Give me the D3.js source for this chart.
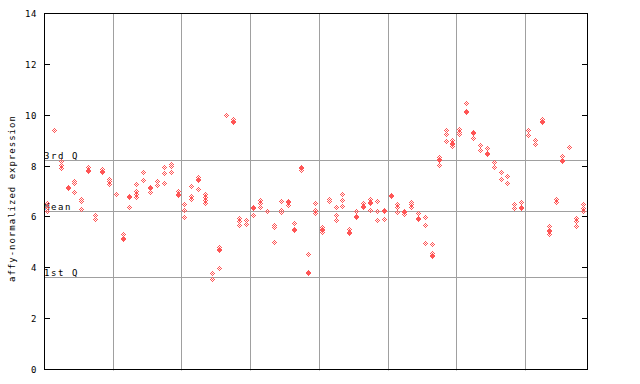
<!DOCTYPE html>
<html>
<head>
<meta charset="utf-8">
<script src="https://cdn.jsdelivr.net/npm/d3@7"></script>
<style>
  body { margin: 0; background: #fff; }
  svg { display: block; }
  text { font-family: "DejaVu Sans Mono", monospace; fill: #000; }
</style>
</head>
<body>
<svg width="640" height="384"></svg>
<script>
var yTicks = [0, 2, 4, 6, 8, 10, 12, 14];
var refLabels = ["3rd Q", "Mean", "1st Q"];
var refValues = [8.24, 6.22, 3.63];
var groupBreaks = [10, 20, 30, 40, 50, 60, 70];

// replicate values per sample, left to right
var sampleValues = [
  [6.52, 6.36, 6.20], [9.38], [8.17, 8.04, 7.91], [7.16, 7.12], [7.38, 7.30, 6.97],
  [6.70, 6.60, 6.30], [7.94, 7.83, 7.80], [6.05, 5.88], [7.88, 7.78, 7.74], [7.49, 7.38, 7.26],
  [6.90], [5.29, 5.16, 5.12], [6.81, 6.77, 6.38], [7.26, 6.99, 6.89, 6.78], [7.76, 7.44],
  [7.15, 7.11, 6.95], [7.41, 7.23], [7.94, 7.70, 7.32], [8.07, 7.99, 7.76], [6.99, 6.89, 6.85],
  [6.50, 6.25, 5.99], [7.21, 6.79, 6.69], [7.57, 7.46, 7.42, 7.09], [6.89, 6.76, 6.63, 6.54], [3.76, 3.55],
  [4.79, 4.71, 4.67, 3.98], [9.97], [9.85, 9.74, 9.70], [5.92, 5.81, 5.68], [5.84, 5.72],
  [6.36, 6.32, 6.04], [6.63, 6.54, 6.36], [6.22], [5.68, 5.59, 5.01], [6.61, 6.26, 6.18],
  [6.60, 6.56, 6.44], [5.76, 5.49, 5.45], [7.94, 7.90, 7.82], [4.53, 3.81, 3.77], [6.54, 6.27, 6.14],
  [5.58, 5.49, 5.45, 5.40], [6.70, 6.60], [6.38, 6.04, 5.85], [6.89, 6.65, 6.42], [5.51, 5.38, 5.34],
  [6.22, 6.01, 5.97], [6.51, 6.41, 6.37], [6.67, 6.57, 6.53, 6.26], [6.61, 6.22, 5.87], [6.25, 6.21, 5.91],
  [6.85, 6.81], [6.50, 6.38, 6.18], [6.22, 6.18, 6.08], [6.57, 6.47, 6.36], [6.14, 5.92, 5.88],
  [5.96, 5.67, 4.97], [4.92, 4.58, 4.47, 4.43], [8.34, 8.27, 8.23, 8.03], [9.39, 9.23, 8.97], [9.02, 8.89, 8.85, 8.76],
  [9.42, 9.33, 9.25], [10.47, 10.14, 10.10], [9.31, 9.27, 9.09], [8.82, 8.60], [8.70, 8.51, 8.47],
  [8.13, 7.95], [7.76, 7.47], [7.58, 7.32], [6.47, 6.34], [6.57, 6.36, 6.32],
  [9.38, 9.22], [9.01, 8.86], [9.85, 9.77, 9.73], [5.64, 5.45, 5.41, 5.29], [6.70, 6.55],
  [8.39, 8.22, 8.18], [8.72], [5.95, 5.81, 5.64], [6.47, 6.34, 6.21]
];
var samples = d3.range(sampleValues.length);

var svg = d3.select("svg"),
    plotLeft = 44, plotRight = 587, plotTop = 13.5, plotBottom = 369.5;

var x = d3.scaleBand().domain(samples).range([plotLeft, plotRight]);
var y = d3.scaleLinear().domain([0, 14]).range([plotBottom, plotTop]);

var grid = "#a0a0a0", red = "#ff5555";

// group separators
svg.append("g").selectAll("line")
    .data(groupBreaks)
  .enter().append("line")
    .attr("x1", function(d) { return Math.round(x(d)) + 0.5; })
    .attr("x2", function(d) { return Math.round(x(d)) + 0.5; })
    .attr("y1", plotTop).attr("y2", plotBottom + 1)
    .attr("stroke", grid);

// quartile / mean lines
var ref = svg.append("g").selectAll("g")
    .data(refValues)
  .enter().append("g");
ref.append("line")
    .attr("x1", plotLeft).attr("x2", plotRight)
    .attr("y1", function(d) { return Math.round(y(d)) + 0.5; })
    .attr("y2", function(d) { return Math.round(y(d)) + 0.5; })
    .attr("stroke", grid);
ref.append("text")
    .attr("x", plotLeft)
    .attr("y", function(d) { return Math.round(y(d)) - 1; })
    .attr("font-size", "9px")
    .attr("letter-spacing", "1.6px")
    .text(function(d, i) { return refLabels[i]; });

// checkered diamond marker, 5x5 pixels
var cells = [[0,-2],[-1,-1],[1,-1],[-2,0],[0,0],[2,0],[-1,1],[1,1],[0,2]];
var marker = cells.map(function(c) { return "M" + c[0] + "," + c[1] + "h1v1h-1z"; }).join("");

var points = [];
sampleValues.forEach(function(vals, i) {
  vals.forEach(function(v) { points.push({sample: i, value: v}); });
});

svg.append("g").selectAll("path")
    .data(points)
  .enter().append("path")
    .attr("d", marker)
    .attr("fill", red)
    .attr("shape-rendering", "crispEdges")
    .attr("transform", function(d) {
      var cx = Math.floor(x(d.sample) + x.bandwidth() / 2);
      var cy = Math.floor(y(d.value));
      return "translate(" + cx + "," + cy + ")";
    });

// frame
svg.append("rect")
    .attr("x", plotLeft + 0.5).attr("y", plotTop)
    .attr("width", plotRight - plotLeft).attr("height", plotBottom - plotTop)
    .attr("fill", "none").attr("stroke", "#000");

// ticks, inward on both sides
var ticks = svg.append("g").selectAll("g")
    .data(yTicks)
  .enter().append("g")
    .attr("transform", function(d) { return "translate(0," + (Math.round(y(d) - 0.5) + 0.5) + ")"; });
ticks.append("line").attr("x1", plotLeft).attr("x2", plotLeft + 6).attr("stroke", "#000");
ticks.append("line").attr("x1", plotRight - 5).attr("x2", plotRight + 1).attr("stroke", "#000");
ticks.append("text")
    .attr("x", 37)
    .attr("dy", "0.35em")
    .attr("text-anchor", "end")
    .attr("font-size", "9px")
    .attr("letter-spacing", "0.6px")
    .text(function(d) { return d; });

svg.append("text")
    .attr("transform", "translate(14.5,282) rotate(-90)")
    .attr("font-size", "9px")
    .attr("letter-spacing", "1px")
    .text("affy-normalized expression");
</script>
</body>
</html>
